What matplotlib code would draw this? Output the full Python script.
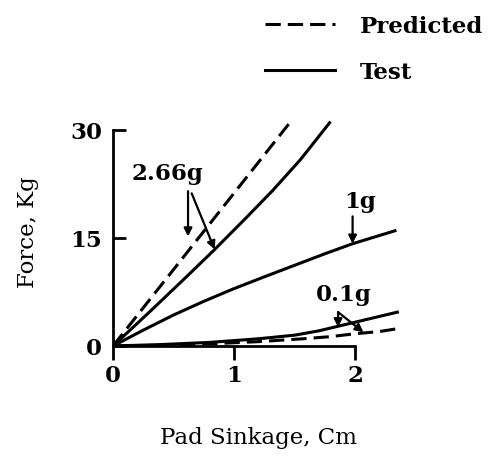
import matplotlib
matplotlib.use("Agg")
import matplotlib.pyplot as plt

plt.rcParams['font.family'] = ['DejaVu Serif']
plt.rcParams['font.weight'] = 'bold'

# pad sinkage (cm) vs force (kg)
x_266_pred = [0, 1.47]
y_266_pred = [0, 31.2]
x_266_test = [0, 0.3, 0.6, 0.84, 1.1, 1.32, 1.55, 1.79]
y_266_test = [0, 4.7, 9.5, 13.4, 17.8, 21.6, 25.9, 31.0]
x_1_test = [0, 0.25, 0.5, 0.75, 0.99, 1.25, 1.5, 1.75, 1.98, 2.33]
y_1_test = [0, 2.2, 4.3, 6.2, 7.9, 9.6, 11.2, 12.8, 14.2, 16.0]
x_01_test = [0, 0.4, 0.8, 1.2, 1.5, 1.7, 1.9, 2.1, 2.35]
y_01_test = [0, 0.2, 0.5, 1.0, 1.5, 2.1, 2.9, 3.7, 4.7]
x_01_pred = [0, 0.4, 0.8, 1.2, 1.57, 1.8, 2.0, 2.2, 2.35]
y_01_pred = [0, 0.1, 0.3, 0.6, 1.0, 1.3, 1.7, 2.0, 2.4]

x_ticks = [0, 1, 2]
y_ticks = [0, 15, 30]

fig = plt.figure(figsize=(4.97, 4.64), dpi=100)
ax = fig.add_axes([0.2274, 0.2522, 0.5843, 0.4966])

lw = 2.2
dash = (5, 2.3)
ax.plot(x_266_pred, y_266_pred, color='black', lw=lw, dashes=dash)
ax.plot(x_266_test, y_266_test, color='black', lw=lw)
ax.plot(x_1_test, y_1_test, color='black', lw=lw)
ax.plot(x_01_test, y_01_test, color='black', lw=lw)
ax.plot(x_01_pred, y_01_pred, color='black', lw=lw, dashes=dash)

ax.set_xlim(0, 2.4)
ax.set_ylim(0, 32)

for s in ['top', 'right']:
    ax.spines[s].set_visible(False)
ax.spines['left'].set_bounds(0, 30)
ax.spines['bottom'].set_bounds(0, 2)
for s in ['left', 'bottom']:
    ax.spines[s].set_linewidth(2.0)

fs = 16.5
ax.set_xticks(x_ticks)
ax.set_yticks(y_ticks)
ax.tick_params(axis='y', direction='in', length=9, width=2, pad=8, labelsize=fs)
ax.tick_params(axis='x', direction='out', length=10, width=2, pad=3, labelsize=fs)

ax.set_xlabel("Pad Sinkage, Cm", fontsize=fs, labelpad=29)
ax.set_ylabel("Force, Kg", fontsize=fs, labelpad=22)

# annotations
arr = dict(arrowstyle='-|>', color='black', lw=1.6, mutation_scale=12, shrinkA=0, shrinkB=0)
ax.text(0.45, 24.0, "2.66g", fontsize=fs, ha='center', va='center')
ax.annotate("", xy=(0.62, 15.2), xytext=(0.62, 21.5), arrowprops=arr)
ax.annotate("", xy=(0.84, 13.4), xytext=(0.65, 21.2), arrowprops=arr)
ax.text(2.04, 20.2, "1g", fontsize=fs, ha='center', va='center')
ax.annotate("", xy=(1.98, 14.2), xytext=(1.98, 18.0), arrowprops=arr)
ax.text(1.91, 7.2, "0.1g", fontsize=fs, ha='center', va='center')
ax.annotate("", xy=(1.86, 2.6), xytext=(1.86, 4.7), arrowprops=arr)
ax.annotate("", xy=(2.07, 1.9), xytext=(1.86, 4.7), arrowprops=arr)

# legend
h1, = ax.plot([], [], color='black', lw=lw, dashes=dash)
h2, = ax.plot([], [], color='black', lw=lw)
fig.legend([h1, h2], ["Predicted", "Test"], loc='upper left',
           bbox_to_anchor=(265 / 497, 1 - 16 / 464), frameon=False,
           fontsize=fs, handlelength=3.05, handletextpad=1.09,
           labelspacing=1.05, borderpad=0, borderaxespad=0)

fig.savefig("out.png", dpi=100)
